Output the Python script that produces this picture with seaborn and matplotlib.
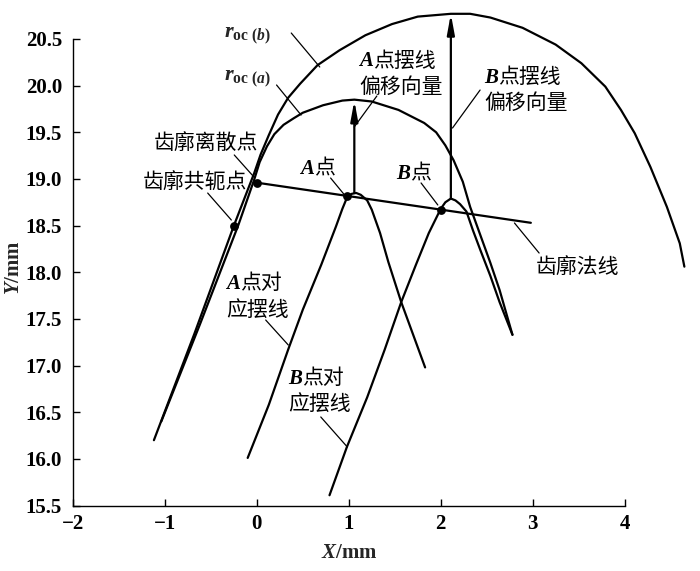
import matplotlib
matplotlib.use("Agg")
import matplotlib.pyplot as plt
from matplotlib.offsetbox import TextArea, HPacker, VPacker, AnnotationBbox
import seaborn as sns

# ---------------- data ----------------
arch_b_x = [-1.12, -0.68, -0.25, -0.03, 0.04, 0.13, 0.23, 0.34, 0.47, 0.66, 0.90, 1.18,
            1.47, 1.75, 2.11, 2.32, 2.54, 2.89, 3.25, 3.53, 3.79, 3.96, 4.11, 4.28, 4.46,
            4.60, 4.65]
arch_b_y = [16.20, 17.34, 18.50, 19.06, 19.26, 19.47, 19.69, 19.87, 20.02, 20.22, 20.38, 20.54,
            20.66, 20.74, 20.77, 20.77, 20.73, 20.62, 20.44, 20.24, 19.99, 19.74, 19.49, 19.13,
            18.70, 18.31, 18.06]

arch_a_x = [-1.04, -0.62, -0.20, -0.03, 0.03, 0.11, 0.19, 0.29, 0.40, 0.50, 0.72, 0.93,
            1.06, 1.25, 1.54, 1.82, 1.95, 2.05, 2.14, 2.24, 2.32, 2.43, 2.54, 2.64, 2.78]
arch_a_y = [16.40, 17.44, 18.51, 18.99, 19.18, 19.35, 19.48, 19.58, 19.65, 19.71, 19.79, 19.84,
            19.85, 19.83, 19.74, 19.60, 19.50, 19.36, 19.20, 18.97, 18.70, 18.40, 18.10, 17.81,
            17.33]

pend_a_x = [-0.10, 0.13, 0.34, 0.50, 0.70, 0.86, 0.93, 0.98, 1.03, 1.08, 1.13, 1.20,
            1.25, 1.34, 1.43, 1.57, 1.70, 1.83]
pend_a_y = [16.01, 16.58, 17.17, 17.60, 18.08, 18.49, 18.68, 18.80, 18.84, 18.85, 18.83, 18.77,
            18.67, 18.42, 18.11, 17.68, 17.33, 16.98]

pend_b_x = [0.79, 0.98, 1.20, 1.39, 1.57, 1.73, 1.87, 1.96, 2.00, 2.05, 2.11, 2.16, 2.21,
            2.28, 2.35, 2.43, 2.54, 2.64, 2.78]
pend_b_y = [15.61, 16.13, 16.66, 17.17, 17.68, 18.08, 18.42, 18.60, 18.68, 18.75, 18.79, 18.77,
            18.73, 18.65, 18.45, 18.24, 17.96, 17.68, 17.33]

normal_x = [0.0, 2.98]
normal_y = [18.96, 18.53]

points_x = [-0.25, 0.0, 0.98, 2.0]
points_y = [18.50, 18.96, 18.82, 18.67]

arrow_x = [1.06, 2.11]
arrow_y0 = [18.85, 18.79]
arrow_y1 = [19.84, 20.77]

x_ticks = [-2, -1, 0, 1, 2, 3, 4]
y_ticks = [15.5, 16.0, 16.5, 17.0, 17.5, 18.0, 18.5, 19.0, 19.5, 20.0, 20.5]

# ---------------- style ----------------
sns.set_style("ticks")
plt.rcParams["font.family"] = ["Liberation Serif", "Noto Sans CJK SC", "DejaVu Sans"]
plt.rcParams["mathtext.fontset"] = "custom"
plt.rcParams["mathtext.it"] = "Liberation Serif:bold:italic"
plt.rcParams["mathtext.rm"] = "Liberation Serif:bold"
plt.rcParams["mathtext.bf"] = "Liberation Serif:bold"
plt.rcParams["axes.unicode_minus"] = True

fig = plt.figure(figsize=(7.0, 5.71), dpi=100)
ax = fig.add_axes([0.1043, 0.1147, 0.8957, 0.8853])
ax.set_xlim(-2, 4.82)
ax.set_ylim(15.5, 20.918)

LW = 1.6
for xs, ys in [(arch_b_x, arch_b_y), (arch_a_x, arch_a_y), (pend_a_x, pend_a_y),
               (pend_b_x, pend_b_y), (normal_x, normal_y)]:
    sns.lineplot(x=xs, y=ys, sort=False, estimator=None, color="black", lw=LW, ax=ax,
                 clip_on=False)

sns.scatterplot(x=points_x, y=points_y, color="black", s=40, edgecolor="black",
                linewidth=0, zorder=5, ax=ax, clip_on=False)

for xa, ya0, ya1 in zip(arrow_x, arrow_y0, arrow_y1):
    ax.annotate("", xy=(xa, ya1), xytext=(xa, ya0),
                arrowprops=dict(arrowstyle="-|>,head_length=1.2,head_width=0.22",
                                color="black", lw=LW, mutation_scale=10,
                                shrinkA=0, shrinkB=0))

# ---------------- axes ----------------
ax.spines["top"].set_visible(False)
ax.spines["right"].set_visible(False)
for s in ["left", "bottom"]:
    ax.spines[s].set_color("black")
    ax.spines[s].set_linewidth(1.0)
ax.spines["left"].set_bounds(15.5, 20.5)
ax.spines["bottom"].set_bounds(-2, 4)
ax.set_xticks(x_ticks)
ax.set_yticks(y_ticks)
ax.set_yticklabels([f"{v:.1f}" for v in y_ticks])
ax.set_xticklabels([str(v).replace("-", "\u2212") for v in x_ticks])
ax.tick_params(axis="both", direction="in", length=5, width=1, colors="black", labelsize=15)
ax.tick_params(axis="x", pad=6)
ax.tick_params(axis="y", pad=8)
for lbl in ax.get_xticklabels() + ax.get_yticklabels():
    lbl.set_fontweight("bold")
    lbl.set_family("Liberation Serif")

ax.set_xlabel(r"$X$/mm", fontsize=15, fontweight="bold", va="center")
ax.xaxis.set_label_coords(0.440, -0.094)
ax.set_ylabel(r"$Y$/mm", fontsize=15, fontweight="bold", va="center")
ax.yaxis.set_label_coords(-0.094, 0.470)

# ---------------- annotations ----------------
PROPS = {
    "lat": dict(family="Liberation Serif", style="italic", weight="bold", size=15,
                color="black"),
    "cjk": dict(family="Noto Sans CJK SC", size=15, color="black"),
}


def rich_label(x, y, lines, sep=3):
    rows = []
    for parts in lines:
        areas = [TextArea(t, textprops=PROPS[k]) for t, k in parts]
        rows.append(HPacker(children=areas, align="baseline", pad=0, sep=0))
    box = rows[0] if len(rows) == 1 else VPacker(children=rows, align="left", pad=0, sep=sep)
    ab = AnnotationBbox(box, (x, y), xycoords="data", box_alignment=(0, 0.5),
                        frameon=False, pad=0, annotation_clip=False)
    ax.add_artist(ab)


ax.text(-0.353, 20.52, r"$r_{\mathrm{oc}\ (b)}$", fontsize=16, ha="left", va="baseline")
ax.text(-0.353, 20.06, r"$r_{\mathrm{oc}\ (a)}$", fontsize=16, ha="left", va="baseline")

rich_label(1.112, 20.130, [[("A", "lat"), ("点摆线", "cjk")], [("偏移向量", "cjk")]])
rich_label(2.471, 19.953, [[("B", "lat"), ("点摆线", "cjk")], [("偏移向量", "cjk")]])
rich_label(-1.123, 19.385, [[("齿廓离散点", "cjk")]])
rich_label(-1.241, 18.967, [[("齿廓共轭点", "cjk")]])
rich_label(0.471, 19.117, [[("A", "lat"), ("点", "cjk")]])
rich_label(1.519, 19.064, [[("B", "lat"), ("点", "cjk")]])
rich_label(3.037, 18.056, [[("齿廓法线", "cjk")]])
rich_label(-0.332, 17.740, [[("A", "lat"), ("点对", "cjk")], [("应摆线", "cjk")]])
rich_label(0.342, 16.727, [[("B", "lat"), ("点对", "cjk")], [("应摆线", "cjk")]])

leaders = [
    ((0.374, 20.564), (0.684, 20.200)),
    ((0.214, 20.007), (0.481, 19.685)),
    ((1.305, 19.889), (1.059, 19.557)),
    ((2.428, 19.953), (2.128, 19.546)),
    ((-0.246, 19.257), (-0.032, 19.021)),
    ((-0.535, 18.849), (-0.278, 18.560)),
    ((0.802, 19.010), (0.963, 18.817)),
    ((1.786, 18.957), (1.968, 18.721)),
    ((2.802, 18.528), (3.070, 18.206)),
    ((0.096, 17.488), (0.342, 17.220)),
    ((0.695, 16.449), (0.984, 16.127)),
]
for (x0, y0), (x1, y1) in leaders:
    ax.plot([x0, x1], [y0, y1], color="black", lw=0.9, clip_on=False)

fig.savefig("out.png", dpi=100)
